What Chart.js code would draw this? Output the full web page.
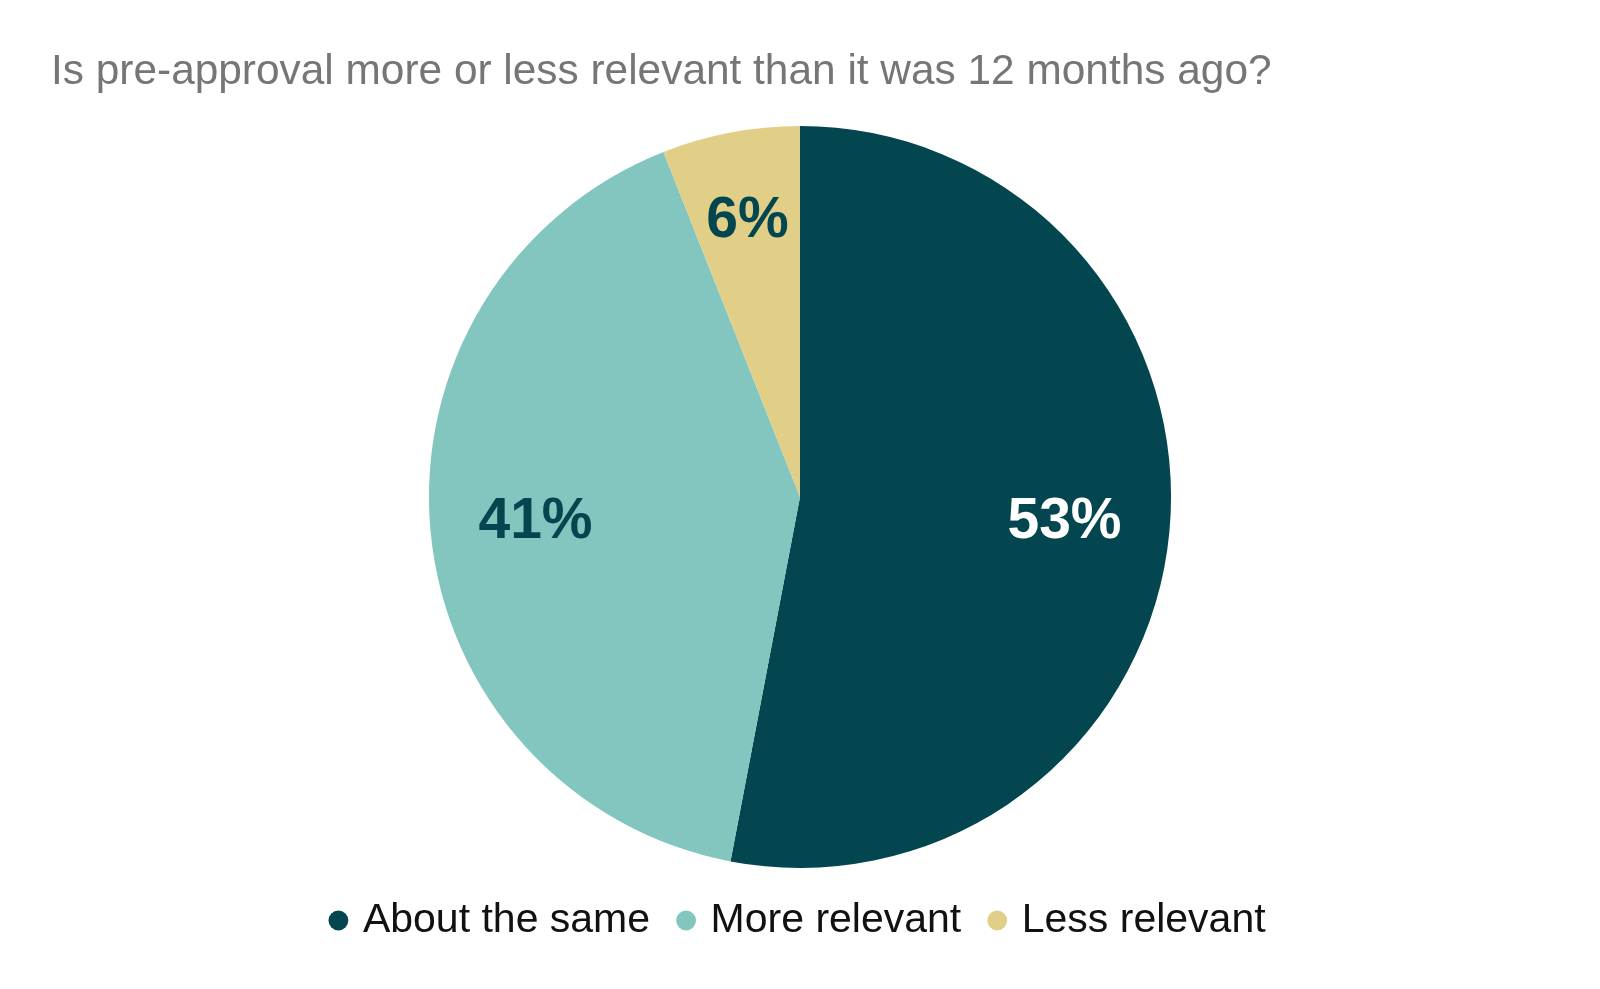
<!DOCTYPE html>
<html>
<head>
<meta charset="utf-8">
<script src="https://cdn.jsdelivr.net/npm/chart.js@4.4.1/dist/chart.umd.min.js"></script>
<style>
  html, body { margin: 0; padding: 0; background: #ffffff; }
  #wrap { width: 1600px; height: 989px; }
</style>
</head>
<body>
<div id="wrap"><canvas id="pieChart"></canvas></div>
<script>
// Data
const categories = ['About the same', 'More relevant', 'Less relevant'];
const shares = [53, 41, 6];
const valueLabels = ['53%', '41%', '6%'];

const sliceColors = ['#03464f', '#82c6bf', '#e1cf88'];
const labelColors = ['#ffffff', '#03464f', '#03464f'];
const labelRadius = [0.716, 0.716, 0.755]; // fraction of the radius where each label sits

// Draws the percentage inside each slice
const sliceLabels = {
    id: 'sliceLabels',
    afterDatasetsDraw(chart) {
        const ctx = chart.ctx;
        const meta = chart.getDatasetMeta(0);
        ctx.save();
        ctx.font = 'bold 57px "Liberation Sans", Arial, sans-serif';
        ctx.textAlign = 'center';
        ctx.textBaseline = 'middle';
        meta.data.forEach((arc, i) => {
            const p = arc.getProps(['x', 'y', 'startAngle', 'endAngle', 'outerRadius'], true);
            const mid = (p.startAngle + p.endAngle) / 2;
            const r = p.outerRadius * labelRadius[i];
            ctx.fillStyle = labelColors[i];
            ctx.fillText(valueLabels[i], p.x + Math.cos(mid) * r, p.y + Math.sin(mid) * r);
        });
        ctx.restore();
    }
};

document.addEventListener('DOMContentLoaded', () => {
    const ctx = document.getElementById('pieChart').getContext('2d');
    new Chart(ctx, {
        type: 'pie',
        data: {
            labels: categories,
            datasets: [{
                data: shares,
                backgroundColor: sliceColors,
                borderWidth: 0
            }]
        },
        options: {
            responsive: true,
            maintainAspectRatio: false,
            animation: false,
            layout: {
                padding: { left: 51, right: 51, top: 0, bottom: 38 }
            },
            plugins: {
                title: {
                    display: true,
                    text: 'Is pre-approval more or less relevant than it was 12 months ago?',
                    align: 'start',
                    color: '#767676',
                    font: { family: '"Liberation Sans", Arial, sans-serif', size: 42.4, weight: 'normal' },
                    padding: { top: 47, bottom: 28 }
                },
                legend: {
                    position: 'bottom',
                    labels: {
                        usePointStyle: true,
                        pointStyle: 'circle',
                        boxWidth: 8,
                        boxHeight: 14,
                        padding: 32,
                        color: '#111111',
                        font: { family: '"Liberation Sans", Arial, sans-serif', size: 41 }
                    }
                },
                tooltip: { enabled: false }
            }
        },
        plugins: [sliceLabels]
    });
});
</script>
</body>
</html>
